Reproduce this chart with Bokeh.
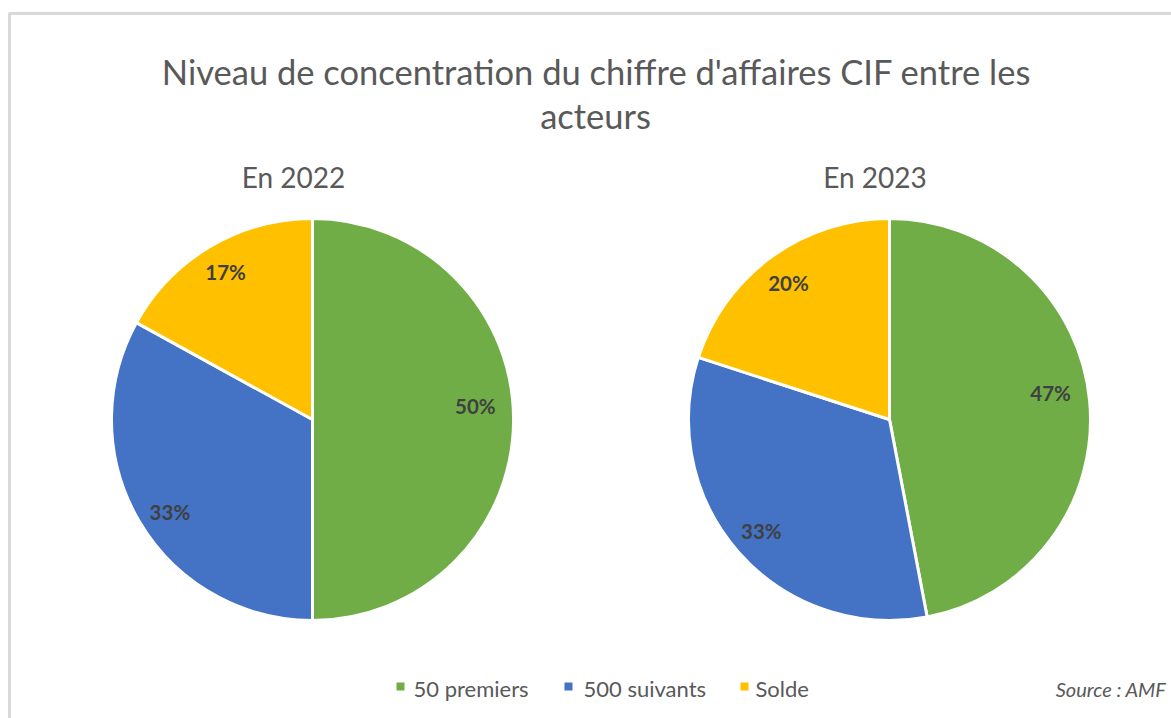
import math
from bokeh.plotting import figure
from bokeh.models import Range1d
from bokeh.core.properties import value
from bokeh.embed import file_html
from bokeh.resources import INLINE

# ---- data ----
categories = ["50 premiers", "500 suivants", "Solde"]
values_2022 = [50, 33, 17]
values_2023 = [47, 33, 20]
years = ["En 2022", "En 2023"]
colors = ["#70AD47", "#4472C4", "#FFC000"]
title_lines = ["Niveau de concentration du chiffre d'affaires CIF entre les", "acteurs"]
source_text = "Source : AMF"

W, H = 1171, 718
FONT = "Lato"
GREY = "#595959"

p = figure(width=W, height=H, x_range=Range1d(0, W), y_range=Range1d(0, H),
           output_backend="svg", toolbar_location=None,
           x_axis_location=None, y_axis_location=None, min_border=0)
p.outline_line_color = None
p.xgrid.visible = False
p.ygrid.visible = False
p.background_fill_color = "white"
p.border_fill_color = "white"

# chart border (light grey frame, top & left visible)
p.line(x=[9, 9, W + 20], y=[-20, 705, 705], line_color="#d9d9d9", line_width=3)

# title
p.text(x=[596, 595], y=[647.5, 603], text=title_lines, text_font=value(FONT),
       text_font_size="34.5px", text_color=GREY, text_align="center",
       text_baseline="middle")

def pie(cx, cy, r, vals, subtitle, sx, nudges):
    total = float(sum(vals))
    cum = 0.0
    starts, ends, mids = [], [], []
    for v in vals:
        a0 = cum / total
        cum += v
        a1 = cum / total
        starts.append(math.pi / 2 - 2 * math.pi * a0)
        ends.append(math.pi / 2 - 2 * math.pi * a1)
        mids.append(math.pi / 2 - 2 * math.pi * (a0 + a1) / 2)
    p.wedge(x=[cx] * len(vals), y=[cy] * len(vals), radius=r,
            start_angle=starts, end_angle=ends, direction="clock",
            fill_color=colors, line_color="white", line_width=3)
    lx = [cx + 0.83 * r * math.cos(m) + n[0] for m, n in zip(mids, nudges)]
    ly = [cy + 0.83 * r * math.sin(m) + n[1] for m, n in zip(mids, nudges)]
    p.text(x=lx, y=ly, text=[f"{v}%" for v in vals], text_font=value(FONT),
           text_font_size="20.5px", text_font_style="bold", text_color="#404040",
           text_align="center", text_baseline="middle")
    p.text(x=[sx], y=[541.5], text=[subtitle], text_font=value(FONT),
           text_font_size="28px", text_color=GREY, text_align="center",
           text_baseline="middle")

pie(312, 299, 201, values_2022, years[0], 293, [(-4, 14), (1, -8), (-2, 4)])
pie(889, 299, 201, values_2023, years[1], 874.5, [(-5, 11), (-3, -1), (-3, 2)])

# legend
mx = [400, 568, 744]
tx = [413, 583, 755]
p.scatter(x=mx, y=[32, 32, 32], marker="square", size=8, fill_color=colors, line_color=None)
p.text(x=tx, y=[30, 30, 30], text=categories, text_font=value(FONT),
       text_font_size="22px", text_color=GREY, text_align="left",
       text_baseline="middle")

# source
p.text(x=[1166], y=[30], text=[source_text], text_font=value(FONT),
       text_font_size="20px", text_font_style="italic", text_color=GREY,
       text_align="right", text_baseline="middle")

open("out.html", "w").write(file_html(p, INLINE))
